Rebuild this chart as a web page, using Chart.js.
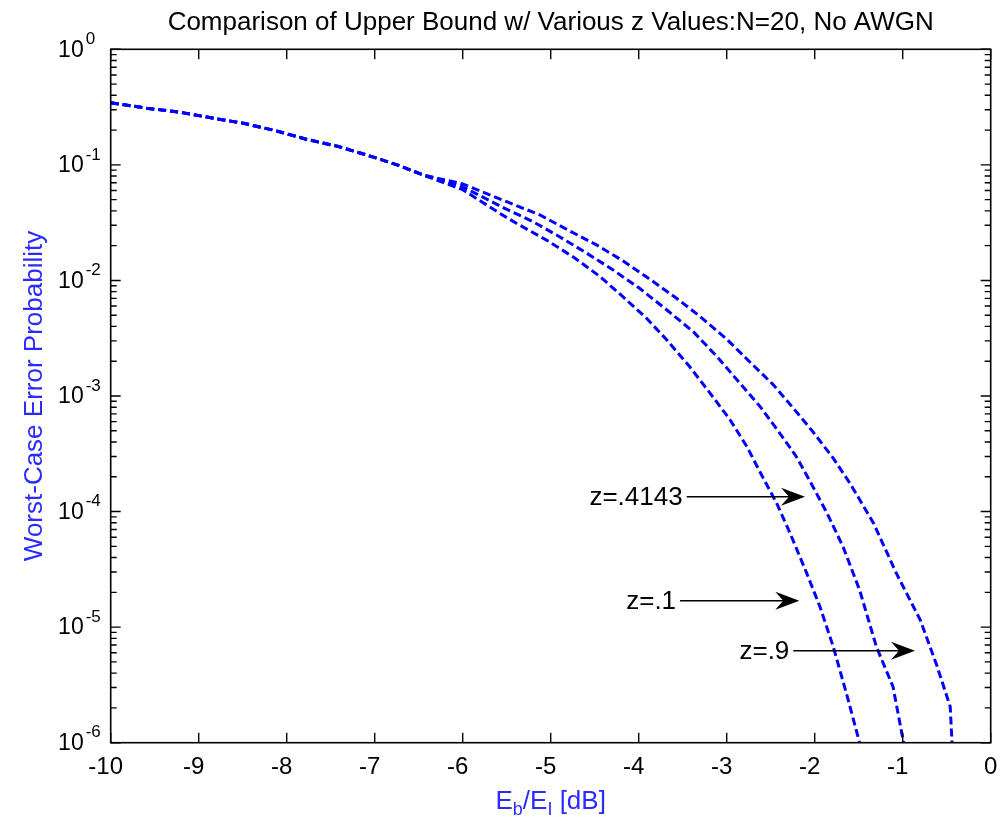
<!DOCTYPE html>
<html>
<head>
<meta charset="utf-8">
<title>Upper Bound vs z</title>
<script src="https://cdn.jsdelivr.net/npm/chart.js@4/dist/chart.umd.min.js"></script>
<style>
  html, body { margin: 0; padding: 0; background: #fff; }
  #wrap { width: 1000px; height: 826px; }
</style>
</head>
<body>
<div id="wrap"><canvas id="boundChart" width="1000" height="826"></canvas></div>
<script>
// Eb/EI in dB and worst-case error probability.
// All three bounds coincide below about -6.4 dB.
var ebShared = [-10, -9.59, -9.21, -8.83, -8.49, -8.13, -7.77, -7.41, -7.05, -6.71, -6.45];
var peShared = [0.345, 0.309, 0.285, 0.253, 0.229, 0.198, 0.166, 0.144, 0.119, 0.0978, 0.0817];

// z = .9
var ebZ9 = [-6.0, -5.5, -5.12, -4.82, -4.48, -4.18, -3.87, -3.57, -3.30, -3.0, -2.74, -2.47, -2.24, -2.02, -1.79, -1.60, -1.33, -1.07, -0.80, -0.61, -0.46, -0.44];
var peZ9 = [0.0684, 0.0480, 0.0368, 0.0277, 0.0203, 0.0148, 0.0102, 0.00701, 0.00486, 0.00310, 0.00198, 0.00125, 7.8e-4, 4.9e-4, 2.9e-4, 1.76e-4, 7.9e-5, 2.9e-5, 1.15e-5, 4.6e-6, 2.05e-6, 1.0e-6];

// z = .4143
var ebZ4143 = [-6.0, -5.54, -5.20, -4.90, -4.59, -4.29, -3.99, -3.68, -3.38, -3.11, -2.85, -2.62, -2.40, -2.21, -2.02, -1.86, -1.68, -1.49, -1.30, -1.11, -0.99];
var peZ4143 = [0.0646, 0.0427, 0.0322, 0.0239, 0.0172, 0.0123, 0.00855, 0.00555, 0.00360, 0.00219, 0.00129, 8.1e-4, 4.8e-4, 3.0e-4, 1.64e-4, 9.7e-5, 5.0e-5, 2.1e-5, 6.8e-6, 3.05e-6, 1.0e-6];

// z = .1
var ebZ1 = [-6.0, -5.58, -5.39, -5.05, -4.74, -4.44, -4.18, -3.91, -3.68, -3.42, -3.19, -2.96, -2.77, -2.62, -2.43, -2.28, -2.09, -1.94, -1.79, -1.64, -1.49];
var peZ1 = [0.0610, 0.0381, 0.0312, 0.0224, 0.0159, 0.0108, 0.00723, 0.00470, 0.00305, 0.00179, 0.00106, 6.2e-4, 3.64e-4, 2.19e-4, 1.17e-4, 6.5e-5, 2.92e-5, 1.50e-5, 6.8e-6, 2.68e-6, 1.0e-6];

var xTicks = [-10, -9, -8, -7, -6, -5, -4, -3, -2, -1, 0];
var yDecades = [-6, -5, -4, -3, -2, -1, 0];

// arrow labels: text, arrow start / end (dB), level (probability)
var notes = [
  { text: 'z=.4143', x0: -3.455, x1: -2.11, y: 1.345e-4 },
  { text: 'z=.1', x0: -3.53, x1: -2.175, y: 1.69e-5 },
  { text: 'z=.9', x0: -2.243, x1: -0.86, y: 6.25e-6 }
];

var FONT = '"Liberation Sans", Arial, sans-serif';
var BLUE = '#0000ff';
var AXIS_BLUE = '#2b2bff';

function toPoints(xs, ys) {
  var pts = [];
  for (var i = 0; i < xs.length; i++) {
    pts.push({ x: xs[i], y: ys[i] });
  }
  return pts;
}

function curve(label, xs, ys) {
  return {
    label: label,
    data: toPoints(ebShared.concat(xs), peShared.concat(ys)),
    showLine: true,
    borderColor: BLUE,
    borderWidth: 3,
    borderDash: [8, 4],
    pointRadius: 0,
    fill: false,
    tension: 0
  };
}

// box, inward ticks, tick labels, titles and arrows in the MATLAB look
var matlabAxes = {
  id: 'matlabAxes',
  afterDraw: function(chart) {
    var ctx = chart.ctx;
    var a = chart.chartArea;
    var xs = chart.scales.x;
    var ys = chart.scales.y;
    ctx.save();

    // plot box
    ctx.strokeStyle = '#000';
    ctx.lineWidth = 1.6;
    ctx.strokeRect(a.left, a.top, a.right - a.left, a.bottom - a.top);

    // x ticks and labels
    ctx.lineWidth = 1.4;
    ctx.font = '24px ' + FONT;
    ctx.fillStyle = '#000';
    ctx.textBaseline = 'alphabetic';
    ctx.textAlign = 'center';
    var minusW = ctx.measureText('-').width;
    xTicks.forEach(function(v) {
      var px = xs.getPixelForValue(v);
      ctx.beginPath();
      ctx.moveTo(px, a.bottom); ctx.lineTo(px, a.bottom - 10);
      ctx.moveTo(px, a.top); ctx.lineTo(px, a.top + 10);
      ctx.stroke();
      var s = String(v);
      ctx.fillText(s, v < 0 ? px - minusW / 2 - 1 : px, a.bottom + 31);
    });

    // y ticks, decades plus minor 2..9
    yDecades.forEach(function(d) {
      var py = ys.getPixelForValue(Math.pow(10, d));
      ctx.beginPath();
      ctx.moveTo(a.left, py); ctx.lineTo(a.left + 10, py);
      ctx.moveTo(a.right, py); ctx.lineTo(a.right - 10, py);
      ctx.stroke();
      if (d < 0) {
        for (var m = 2; m <= 9; m++) {
          var pm = ys.getPixelForValue(m * Math.pow(10, d));
          ctx.beginPath();
          ctx.moveTo(a.left, pm); ctx.lineTo(a.left + 6, pm);
          ctx.moveTo(a.right, pm); ctx.lineTo(a.right - 6, pm);
          ctx.stroke();
        }
      }
      // 10 with raised exponent
      ctx.textBaseline = 'middle';
      ctx.textAlign = 'right';
      ctx.font = '23px ' + FONT;
      ctx.fillText('10', a.left - 27, py + 1);
      ctx.textAlign = 'left';
      ctx.font = '17px ' + FONT;
      ctx.fillText(String(d), a.left - 25, py - 10);
    });

    // title
    ctx.textBaseline = 'alphabetic';
    ctx.textAlign = 'center';
    ctx.font = '26px ' + FONT;
    ctx.fillStyle = '#000';
    ctx.fillText('Comparison of Upper Bound w/ Various z Values:N=20, No AWGN', (a.left + a.right) / 2, 30);

    // y axis title
    ctx.save();
    ctx.translate(42, (a.top + a.bottom) / 2);
    ctx.rotate(-Math.PI / 2);
    ctx.fillStyle = AXIS_BLUE;
    ctx.font = '26px ' + FONT;
    ctx.textAlign = 'center';
    ctx.fillText('Worst-Case Error Probability', 0, 0);
    ctx.restore();

    // x axis title: E_b/E_I [dB]
    var parts = [
      { t: 'E', sub: false }, { t: 'b', sub: true }, { t: '/E', sub: false },
      { t: 'I', sub: true }, { t: ' [dB]', sub: false }
    ];
    var total = 0;
    parts.forEach(function(p) {
      ctx.font = (p.sub ? '18px ' : '26px ') + FONT;
      p.w = ctx.measureText(p.t).width;
      total += p.w;
    });
    var cx = (a.left + a.right) / 2 - total / 2;
    ctx.fillStyle = AXIS_BLUE;
    ctx.textAlign = 'left';
    parts.forEach(function(p) {
      ctx.font = (p.sub ? '18px ' : '26px ') + FONT;
      ctx.fillText(p.t, cx, p.sub ? 815 : 809);
      cx += p.w;
    });

    // arrows with labels
    ctx.fillStyle = '#000';
    ctx.strokeStyle = '#000';
    ctx.lineWidth = 1.6;
    ctx.font = '26px ' + FONT;
    notes.forEach(function(n) {
      var x0 = xs.getPixelForValue(n.x0);
      var x1 = xs.getPixelForValue(n.x1);
      var py = ys.getPixelForValue(n.y);
      ctx.textAlign = 'right';
      ctx.textBaseline = 'middle';
      ctx.fillText(n.text, x0 - 4, py + 1);
      ctx.beginPath();
      ctx.moveTo(x0, py); ctx.lineTo(x1 - 10, py);
      ctx.stroke();
      ctx.beginPath();
      ctx.moveTo(x1, py);
      ctx.lineTo(x1 - 24, py - 9);
      ctx.lineTo(x1 - 16, py);
      ctx.lineTo(x1 - 24, py + 9);
      ctx.closePath();
      ctx.fill();
    });

    ctx.restore();
  }
};

var ctx = document.getElementById('boundChart').getContext('2d');
var boundChart = new Chart(ctx, {
  type: 'scatter',
  data: {
    datasets: [
      curve('z=.9', ebZ9, peZ9),
      curve('z=.4143', ebZ4143, peZ4143),
      curve('z=.1', ebZ1, peZ1)
    ]
  },
  options: {
    responsive: false,
    animation: false,
    layout: { padding: { top: 49.3, right: 9.3, bottom: 0, left: 0 } },
    plugins: {
      legend: { display: false },
      tooltip: { enabled: false },
      title: { display: false }
    },
    scales: {
      x: {
        type: 'linear',
        min: -10,
        max: 0,
        grid: { display: false },
        border: { display: false },
        ticks: { display: false },
        afterFit: function(scale) { scale.height = 83.3; }
      },
      y: {
        type: 'logarithmic',
        min: 1e-6,
        max: 1,
        grid: { display: false },
        border: { display: false },
        ticks: { display: false },
        afterFit: function(scale) { scale.width = 110.7; }
      }
    }
  },
  plugins: [matlabAxes]
});
</script>
</body>
</html>
